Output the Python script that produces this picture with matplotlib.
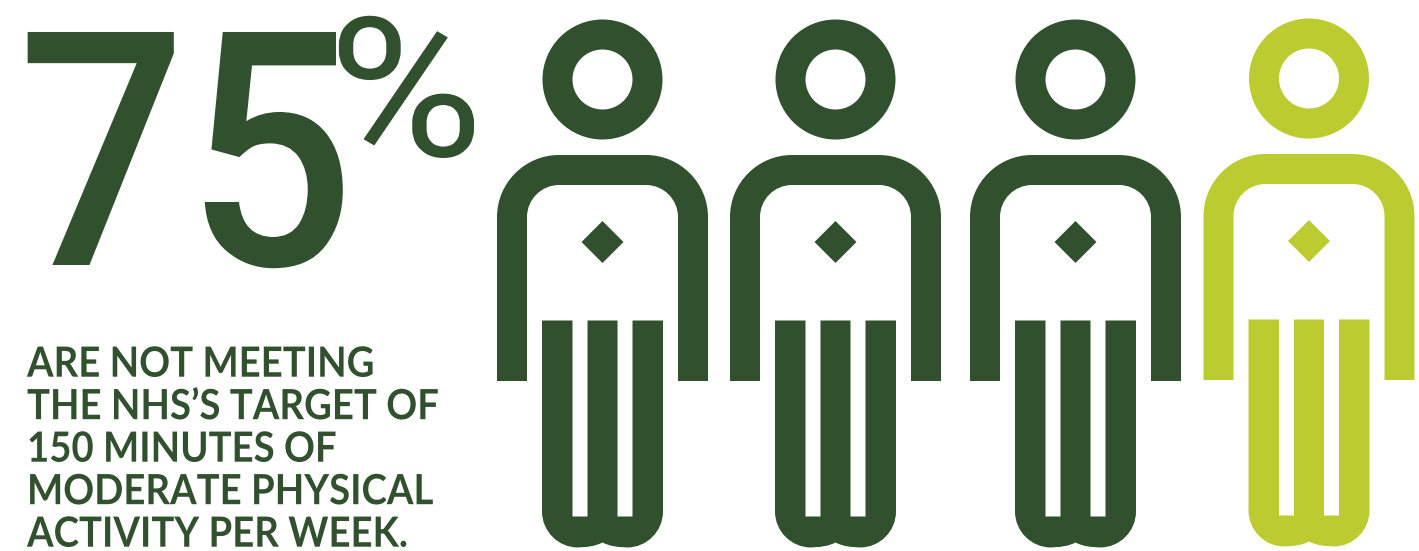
import matplotlib
matplotlib.use('Agg')
import matplotlib.pyplot as plt
from matplotlib.path import Path
from matplotlib.patches import PathPatch, Circle, Polygon
from matplotlib.patheffects import AbstractPathEffect
from matplotlib.transforms import Affine2D

headline = '75'
percent_sign = '%'
caption_lines = ['ARE NOT MEETING', 'THE NHS\u2019S TARGET OF', '150 MINUTES OF',
                 'MODERATE PHYSICAL', 'ACTIVITY PER WEEK.']
people_total = 4
people_not_meeting = 3

DARK = '#31512e'
LIME = '#bbcb30'
W, H = 1419, 551

# horizontal centre and vertical shift of each figure, in pixels
person_x = [602.5, 835.5, 1075.5, 1309]
person_dy = [0, 0, 0, -1]


class SqueezeX(AbstractPathEffect):
    # rescales glyph widths about a fixed pixel column
    def __init__(self, sx, x0):
        super().__init__()
        self.sx = sx
        self.x0 = x0

    def draw_path(self, renderer, gc, tpath, affine, rgbFace=None):
        squeeze = Affine2D().translate(-self.x0, 0).scale(self.sx, 1).translate(self.x0, 0)
        renderer.draw_path(gc, tpath, affine + squeeze, rgbFace)


def body_path(cx, dy):
    # shoulders and arms: outer outline down the left, back up the inside
    l, r = cx - 105.5, cx + 105.5
    il, ir = cx - 75.5, cx + 75.5
    top, itop, bot = 155 + dy, 185 + dy, 381 + dy
    ro, ri = 62, 32
    k = 0.45
    v = [(l, bot), (l, top + ro), (l, top + ro * k), (l + ro * k, top), (l + ro, top),
         (r - ro, top), (r - ro * k, top), (r, top + ro * k), (r, top + ro),
         (r, bot), (ir, bot), (ir, itop + ri), (ir, itop + ri * k), (ir - ri * k, itop), (ir - ri, itop),
         (il + ri, itop), (il + ri * k, itop), (il, itop + ri * k), (il, itop + ri),
         (il, bot), (l, bot)]
    c = [Path.MOVETO, Path.LINETO, Path.CURVE4, Path.CURVE4, Path.CURVE4,
         Path.LINETO, Path.CURVE4, Path.CURVE4, Path.CURVE4,
         Path.LINETO, Path.LINETO, Path.LINETO, Path.CURVE4, Path.CURVE4, Path.CURVE4,
         Path.LINETO, Path.CURVE4, Path.CURVE4, Path.CURVE4,
         Path.LINETO, Path.CLOSEPOLY]
    return Path(v, c)


def legs_path(cx, dy):
    # three legs joined at the foot, two slots cut from the top
    l, r = cx - 60.5, cx + 60.5
    top, slot, bot = 320.5 + dy, 516.5 + dy, 547.5 + dy
    rc = 36
    k = 0.45
    v = [(l, top), (l, bot - rc), (l, bot - rc * k), (l + rc * k, bot), (l + rc, bot),
         (cx - 30, bot), (cx - 14, bot), (cx - 7, 546 + dy), (cx, 542.5 + dy),
         (cx + 7, 546 + dy), (cx + 14, bot), (cx + 30, bot),
         (r - rc, bot), (r - rc * k, bot), (r, bot - rc * k), (r, bot - rc),
         (r, top), (cx + 30, top), (cx + 30, slot), (cx + 15, slot), (cx + 15, top),
         (cx - 15, top), (cx - 15, slot), (cx - 30, slot), (cx - 30, top), (l, top)]
    c = [Path.MOVETO, Path.LINETO, Path.CURVE4, Path.CURVE4, Path.CURVE4,
         Path.LINETO, Path.CURVE4, Path.CURVE4, Path.CURVE4,
         Path.CURVE4, Path.CURVE4, Path.CURVE4,
         Path.LINETO, Path.CURVE4, Path.CURVE4, Path.CURVE4,
         Path.LINETO, Path.LINETO, Path.LINETO, Path.LINETO, Path.LINETO,
         Path.LINETO, Path.LINETO, Path.LINETO, Path.LINETO, Path.CLOSEPOLY]
    return Path(v, c)


def draw_person(ax, cx, dy, color):
    ax.add_patch(Circle((cx, 79.5 + dy), 45, fill=False, ec=color, lw=30 * 72 / 100))
    ax.add_patch(PathPatch(body_path(cx, dy), fc=color, ec='none'))
    ax.add_patch(Polygon([(cx - 21, 242 + dy), (cx, 221 + dy), (cx + 21, 242 + dy), (cx, 263 + dy)],
                         fc=color, ec='none'))
    ax.add_patch(PathPatch(legs_path(cx, dy), fc=color, ec='none'))


fig = plt.figure(figsize=(W / 100, H / 100), dpi=100)
ax = fig.add_axes([0, 0, 1, 1])
ax.set_xlim(0, W)
ax.set_ylim(H, 0)
ax.axis('off')

for i in range(people_total):
    color = DARK if i < people_not_meeting else LIME
    draw_person(ax, person_x[i], person_dy[i], color)

big = ax.text(17.5, 265, headline, color=DARK, fontsize=236, family='Roboto', weight='medium',
              ha='left', va='baseline')
big.set_path_effects([SqueezeX(0.905, 17.5)])
pct = ax.text(328, 156, percent_sign, color=DARK, fontsize=140, family='Roboto', weight='normal',
              ha='left', va='baseline')
pct.set_path_effects([SqueezeX(1.09, 328)])

for i, line in enumerate(caption_lines):
    t = ax.text(27, 376.7 + i * 42.5, line, color=DARK, fontsize=30, family='Lato', weight='bold',
                ha='left', va='baseline')
    t.set_path_effects([SqueezeX(0.92, 27)])

fig.savefig('out.png', dpi=100)
